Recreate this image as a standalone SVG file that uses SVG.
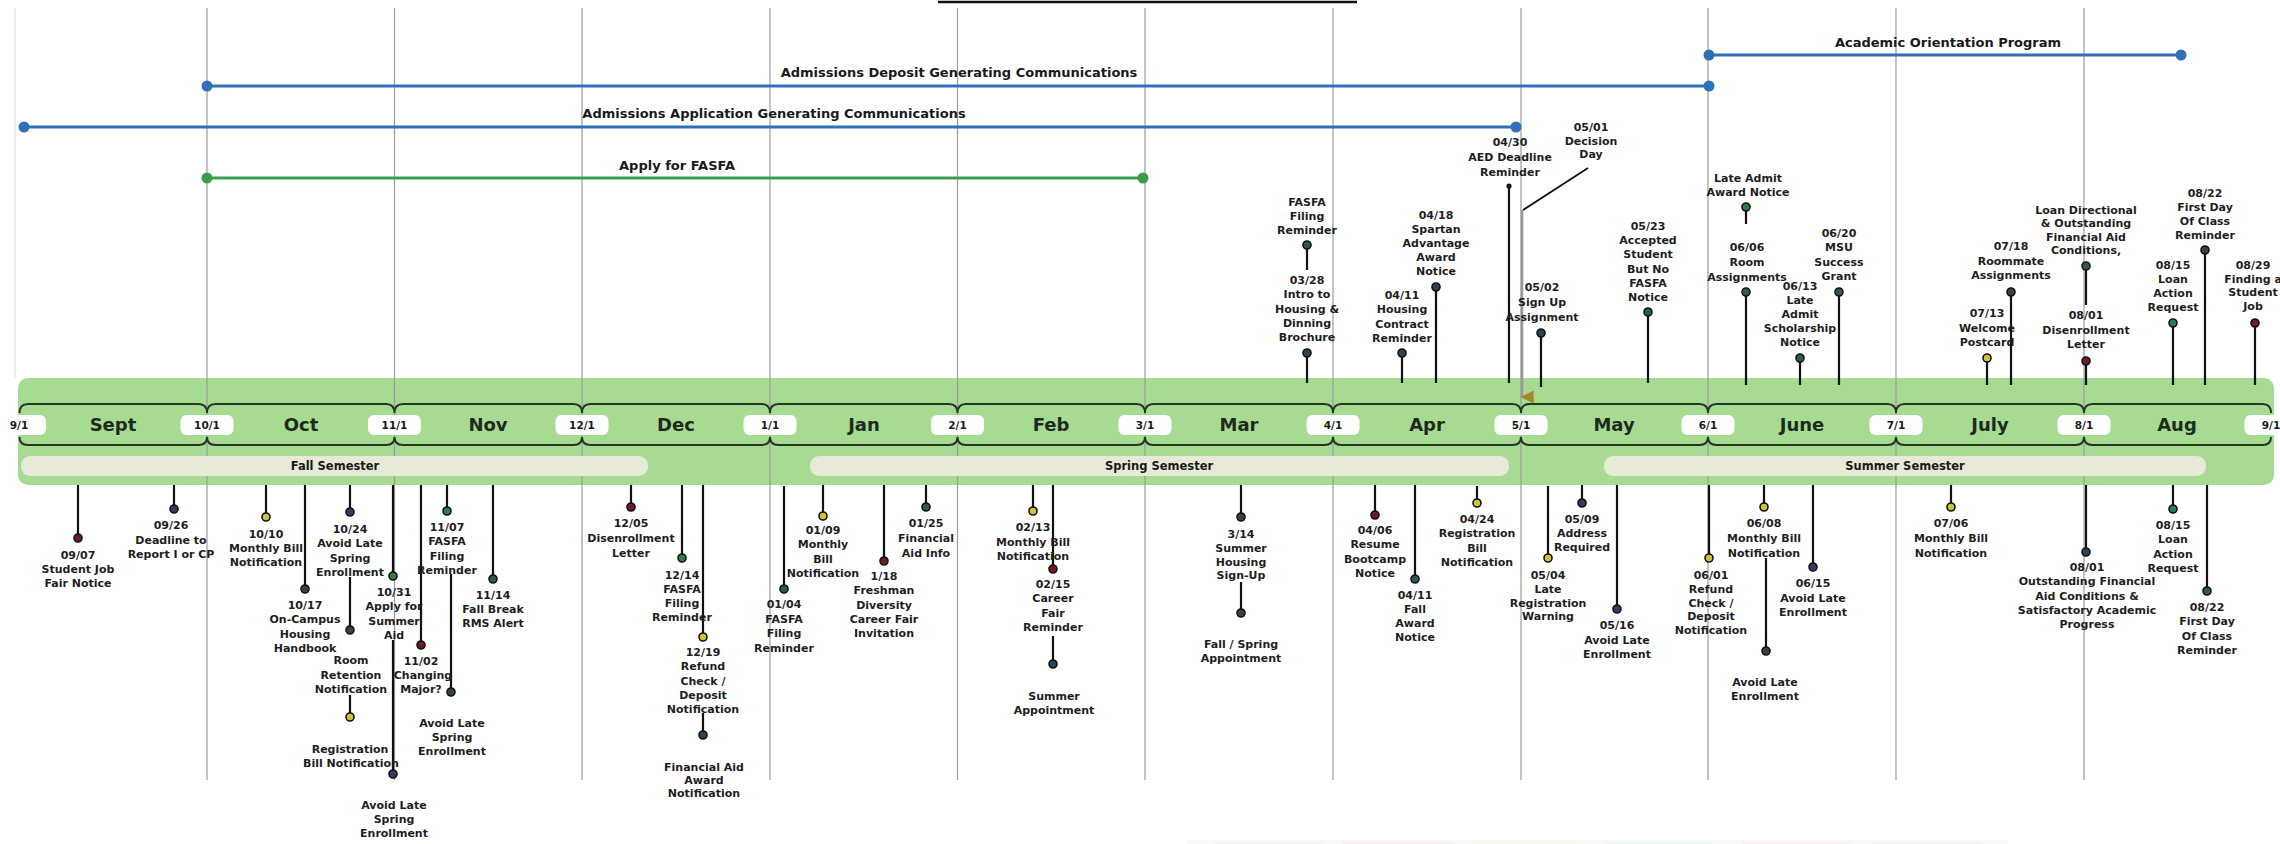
<svg xmlns="http://www.w3.org/2000/svg" width="2280" height="844" viewBox="0 0 2280 844">
  <style>
    .vl{stroke:#9c9c9c;stroke-width:1.2}
    .stem{stroke:#111;stroke-width:2.2}
    .dot{stroke:#111;stroke-width:1.6}
    .lbl{font-family:"DejaVu Sans",sans-serif;font-weight:bold;font-size:11px;fill:#1e1e1e;text-anchor:middle}
    .bar{font-family:"DejaVu Sans",sans-serif;font-weight:bold;font-size:13px;fill:#1a1a1a;text-anchor:middle}
    .semt{font-family:"DejaVu Sans",sans-serif;font-weight:bold;font-size:11.5px;fill:#1a1a1a;text-anchor:middle}
    .mon{font-family:"DejaVu Sans",sans-serif;font-weight:bold;font-size:18px;fill:#1e2a1e;text-anchor:middle}
    .pill{fill:#ffffff}
    .pt{font-family:"DejaVu Sans",sans-serif;font-weight:bold;font-size:10.5px;fill:#1a1a1a;text-anchor:middle}
    .brace{fill:none;stroke:#263626;stroke-width:2}
    .sem{fill:#e7e9d9}
    .blue{stroke:#2f70b6;stroke-width:3.2}
    .bluedot{fill:#2f70b6}
    .grn{stroke:#3c9e4c;stroke-width:3.2}
    .grndot{fill:#3c9e4c}
    .y{fill:#cfc43a}.r{fill:#6e1c22}.p{fill:#3f3569}.g{fill:#2f7d4e}.s{fill:#2e4250}.t{fill:#2a5b57}
  </style>
  <defs>
    <marker id="arrowDown" viewBox="0 0 10 10" refX="5" refY="9" markerWidth="5" markerHeight="5" orient="auto">
      <path d="M0,0 L10,0 L5,10 z" fill="#a08a30"/>
    </marker>
  </defs>

  <rect width="2280" height="844" fill="#ffffff"/>

  <!-- title underline -->
  <line x1="938" y1="2" x2="1357" y2="2" stroke="#111" stroke-width="2.5"/>

  <!-- timeline band -->
  <g id="band">
    <rect x="18" y="378" width="2256" height="107" rx="10" fill="#a6db91"/>
  </g>

  <!-- month grid -->
  <g id="grid">
    <line x1="15" y1="8" x2="15" y2="378" stroke="#dedede" stroke-width="1"/>
    <line class="vl" x1="207" y1="8" x2="207" y2="780"/>
    <line class="vl" x1="394.5" y1="8" x2="394.5" y2="780"/>
    <line class="vl" x1="582" y1="8" x2="582" y2="780"/>
    <line class="vl" x1="770" y1="8" x2="770" y2="780"/>
    <line class="vl" x1="957.5" y1="8" x2="957.5" y2="780"/>
    <line class="vl" x1="1145" y1="8" x2="1145" y2="780"/>
    <line class="vl" x1="1333" y1="8" x2="1333" y2="780"/>
    <line class="vl" x1="1521" y1="8" x2="1521" y2="780"/>
    <line class="vl" x1="1708" y1="8" x2="1708" y2="780"/>
    <line class="vl" x1="1896" y1="8" x2="1896" y2="780"/>
    <line class="vl" x1="2084" y1="8" x2="2084" y2="780"/>
  </g>

  <!-- semesters -->
  <g id="semesters">
    <rect class="sem" x="21" y="456" width="627" height="20" rx="9"/>
    <text class="semt" x="335" y="470">Fall Semester</text>
    <rect class="sem" x="810" y="456" width="699" height="20" rx="9"/>
    <text class="semt" x="1159" y="470">Spring Semester</text>
    <rect class="sem" x="1604" y="456" width="602" height="20" rx="9"/>
    <text class="semt" x="1905" y="470">Summer Semester</text>
  </g>

  <!-- month braces -->
  <g id="braces">
    <path class="brace" d="M19.5,413 Q19.5,404 28,404 H198.5 Q207,404 207,413 M207,413 Q207,404 215.5,404 H386 Q394.5,404 394.5,413 M394.5,413 Q394.5,404 403,404 H573.5 Q582,404 582,413 M582,413 Q582,404 590.5,404 H761.5 Q770,404 770,413 M770,413 Q770,404 778.5,404 H949 Q957.5,404 957.5,413 M957.5,413 Q957.5,404 966,404 H1136.5 Q1145,404 1145,413 M1145,413 Q1145,404 1153.5,404 H1324.5 Q1333,404 1333,413 M1333,413 Q1333,404 1341.5,404 H1512.5 Q1521,404 1521,413 M1521,413 Q1521,404 1529.5,404 H1699.5 Q1708,404 1708,413 M1708,413 Q1708,404 1716.5,404 H1887.5 Q1896,404 1896,413 M1896,413 Q1896,404 1904.5,404 H2075.5 Q2084,404 2084,413 M2084,413 Q2084,404 2092.5,404 H2262.5 Q2271,404 2271,413"/>
    <path class="brace" d="M19.5,437 Q19.5,445 28,445 H198.5 Q207,445 207,437 M207,437 Q207,445 215.5,445 H386 Q394.5,445 394.5,437 M394.5,437 Q394.5,445 403,445 H573.5 Q582,445 582,437 M582,437 Q582,445 590.5,445 H761.5 Q770,445 770,437 M770,437 Q770,445 778.5,445 H949 Q957.5,445 957.5,437 M957.5,437 Q957.5,445 966,445 H1136.5 Q1145,445 1145,437 M1145,437 Q1145,445 1153.5,445 H1324.5 Q1333,445 1333,437 M1333,437 Q1333,445 1341.5,445 H1512.5 Q1521,445 1521,437 M1521,437 Q1521,445 1529.5,445 H1699.5 Q1708,445 1708,437 M1708,437 Q1708,445 1716.5,445 H1887.5 Q1896,445 1896,437 M1896,437 Q1896,445 1904.5,445 H2075.5 Q2084,445 2084,437 M2084,437 Q2084,445 2092.5,445 H2262.5 Q2271,445 2271,437"/>
  </g>

  <!-- month names and date tabs -->
  <g id="months">
    <text class="mon" x="113" y="431">Sept</text>
    <text class="mon" x="301" y="431">Oct</text>
    <text class="mon" x="488" y="431">Nov</text>
    <text class="mon" x="676" y="431">Dec</text>
    <text class="mon" x="864" y="431">Jan</text>
    <text class="mon" x="1051" y="431">Feb</text>
    <text class="mon" x="1239" y="431">Mar</text>
    <text class="mon" x="1427" y="431">Apr</text>
    <text class="mon" x="1614" y="431">May</text>
    <text class="mon" x="1802" y="431">June</text>
    <text class="mon" x="1990" y="431">July</text>
    <text class="mon" x="2177" y="431">Aug</text>
    <rect class="pill" x="-7" y="415" width="53" height="20" rx="6"/><text class="pt" x="19" y="429">9/1</text>
    <rect class="pill" x="180.5" y="415" width="53" height="20" rx="6"/><text class="pt" x="207" y="429">10/1</text>
    <rect class="pill" x="368" y="415" width="53" height="20" rx="6"/><text class="pt" x="394.5" y="429">11/1</text>
    <rect class="pill" x="555.5" y="415" width="53" height="20" rx="6"/><text class="pt" x="582" y="429">12/1</text>
    <rect class="pill" x="743.5" y="415" width="53" height="20" rx="6"/><text class="pt" x="770" y="429">1/1</text>
    <rect class="pill" x="931" y="415" width="53" height="20" rx="6"/><text class="pt" x="957.5" y="429">2/1</text>
    <rect class="pill" x="1118.5" y="415" width="53" height="20" rx="6"/><text class="pt" x="1145" y="429">3/1</text>
    <rect class="pill" x="1306.5" y="415" width="53" height="20" rx="6"/><text class="pt" x="1333" y="429">4/1</text>
    <rect class="pill" x="1494.5" y="415" width="53" height="20" rx="6"/><text class="pt" x="1521" y="429">5/1</text>
    <rect class="pill" x="1681.5" y="415" width="53" height="20" rx="6"/><text class="pt" x="1708" y="429">6/1</text>
    <rect class="pill" x="1869.5" y="415" width="53" height="20" rx="6"/><text class="pt" x="1896" y="429">7/1</text>
    <rect class="pill" x="2057.5" y="415" width="53" height="20" rx="6"/><text class="pt" x="2084" y="429">8/1</text>
    <rect class="pill" x="2244.5" y="415" width="53" height="20" rx="6"/><text class="pt" x="2271" y="429">9/1</text>
  </g>

  <!-- program spans -->
  <g id="span-orientation">
    <line class="blue" x1="1709" y1="55" x2="2181" y2="55"/>
    <circle class="bluedot" cx="1709" cy="55" r="5.5"/><circle class="bluedot" cx="2181" cy="55" r="5.5"/>
    <text class="bar" x="1948" y="47">Academic Orientation Program</text>
  </g>
  <g id="span-deposit">
    <line class="blue" x1="207" y1="86" x2="1709" y2="86"/>
    <circle class="bluedot" cx="207" cy="86" r="5.5"/><circle class="bluedot" cx="1709" cy="86" r="5.5"/>
    <text class="bar" x="959" y="77">Admissions Deposit Generating Communications</text>
  </g>
  <g id="span-application">
    <line class="blue" x1="24" y1="127" x2="1516" y2="127"/>
    <circle class="bluedot" cx="24" cy="127" r="5.5"/><circle class="bluedot" cx="1516" cy="127" r="5.5"/>
    <text class="bar" x="774" y="118">Admissions Application Generating Communications</text>
  </g>
  <g id="span-fasfa">
    <line class="grn" x1="207" y1="178" x2="1143" y2="178"/>
    <circle class="grndot" cx="207" cy="178" r="5.5"/><circle class="grndot" cx="1143" cy="178" r="5.5"/>
    <text class="bar" x="677" y="170">Apply for FASFA</text>
  </g>

  <!-- connectors: stems from the timeline band to each event -->
  <g id="connectors">
    <!-- above the band -->
    <line class="stem" x1="1307" y1="383" x2="1307" y2="353"/>
    <line class="stem" x1="1307" y1="270" x2="1307" y2="245"/>
    <line class="stem" x1="1402" y1="383" x2="1402" y2="353"/>
    <line class="stem" x1="1436" y1="383" x2="1436" y2="287"/>
    <line class="stem" x1="1509" y1="383" x2="1509" y2="186"/>
    <line x1="1588" y1="168" x2="1523" y2="210" stroke="#111" stroke-width="1.8"/>
    <line x1="1522" y1="210" x2="1522" y2="397" stroke="#9a9a9a" stroke-width="2.6" marker-end="url(#arrowDown)"/>
    <line class="stem" x1="1541" y1="387" x2="1541" y2="333"/>
    <line class="stem" x1="1648" y1="383" x2="1648" y2="312"/>
    <line class="stem" x1="1746" y1="385" x2="1746" y2="292"/>
    <line class="stem" x1="1746" y1="224" x2="1746" y2="207"/>
    <line class="stem" x1="1800" y1="385" x2="1800" y2="358"/>
    <line class="stem" x1="1839" y1="385" x2="1839" y2="292"/>
    <line class="stem" x1="1987" y1="385" x2="1987" y2="358"/>
    <line class="stem" x1="2011" y1="385" x2="2011" y2="292"/>
    <line class="stem" x1="2086" y1="385" x2="2086" y2="361"/>
    <line class="stem" x1="2086" y1="305" x2="2086" y2="266"/>
    <line class="stem" x1="2173" y1="385" x2="2173" y2="323"/>
    <line class="stem" x1="2205" y1="385" x2="2205" y2="250"/>
    <line class="stem" x1="2255" y1="385" x2="2255" y2="323"/>
    <!-- below the band -->
    <line class="stem" x1="78" y1="485" x2="78" y2="538"/>
    <line class="stem" x1="174" y1="485" x2="174" y2="509"/>
    <line class="stem" x1="266" y1="485" x2="266" y2="517"/>
    <line class="stem" x1="305" y1="485" x2="305" y2="589"/>
    <line class="stem" x1="350" y1="485" x2="350" y2="512"/>
    <line class="stem" x1="350" y1="577" x2="350" y2="630"/>
    <line class="stem" x1="350" y1="695" x2="350" y2="717"/>
    <line class="stem" x1="393" y1="485" x2="393" y2="576"/>
    <line class="stem" x1="393" y1="640" x2="393" y2="774"/>
    <line class="stem" x1="421" y1="485" x2="421" y2="645"/>
    <line class="stem" x1="447" y1="485" x2="447" y2="511"/>
    <line class="stem" x1="451" y1="574" x2="451" y2="692"/>
    <line class="stem" x1="493" y1="485" x2="493" y2="579"/>
    <line class="stem" x1="631" y1="485" x2="631" y2="507"/>
    <line class="stem" x1="682" y1="485" x2="682" y2="558"/>
    <line class="stem" x1="703" y1="485" x2="703" y2="637"/>
    <line class="stem" x1="703" y1="713" x2="703" y2="735"/>
    <line class="stem" x1="784" y1="486" x2="784" y2="589"/>
    <line class="stem" x1="823" y1="485" x2="823" y2="516"/>
    <line class="stem" x1="884" y1="485" x2="884" y2="561"/>
    <line class="stem" x1="926" y1="485" x2="926" y2="507"/>
    <line class="stem" x1="1033" y1="485" x2="1033" y2="511"/>
    <line class="stem" x1="1053" y1="485" x2="1053" y2="569"/>
    <line class="stem" x1="1053" y1="636" x2="1053" y2="664"/>
    <line class="stem" x1="1241" y1="485" x2="1241" y2="517"/>
    <line class="stem" x1="1241" y1="582" x2="1241" y2="613"/>
    <line class="stem" x1="1375" y1="485" x2="1375" y2="515"/>
    <line class="stem" x1="1415" y1="485" x2="1415" y2="579"/>
    <line class="stem" x1="1477" y1="486" x2="1477" y2="503"/>
    <line class="stem" x1="1548" y1="486" x2="1548" y2="558"/>
    <line class="stem" x1="1582" y1="485" x2="1582" y2="503"/>
    <line class="stem" x1="1617" y1="485" x2="1617" y2="609"/>
    <line class="stem" x1="1709" y1="485" x2="1709" y2="558"/>
    <line class="stem" x1="1764" y1="485" x2="1764" y2="507"/>
    <line class="stem" x1="1766" y1="558" x2="1766" y2="651"/>
    <line class="stem" x1="1813" y1="485" x2="1813" y2="567"/>
    <line class="stem" x1="1951" y1="485" x2="1951" y2="507"/>
    <line class="stem" x1="2086" y1="485" x2="2086" y2="552"/>
    <line class="stem" x1="2173" y1="485" x2="2173" y2="509"/>
    <line class="stem" x1="2207" y1="485" x2="2207" y2="591"/>
  </g>

  <!-- events above the band -->
  <g id="ev-0328">
    <circle class="dot s" cx="1307" cy="353" r="4"/>
    <text class="lbl" y="284"><tspan x="1307">03/28</tspan><tspan x="1307" dy="14.3">Intro to</tspan><tspan x="1307" dy="14.3">Housing &amp;</tspan><tspan x="1307" dy="14.3">Dinning</tspan><tspan x="1307" dy="14.3">Brochure</tspan></text>
  </g>
  <g id="ev-fasfa-spring">
    <circle class="dot t" cx="1307" cy="245" r="4"/>
    <text class="lbl" y="206"><tspan x="1307">FASFA</tspan><tspan x="1307" dy="14">Filing</tspan><tspan x="1307" dy="14">Reminder</tspan></text>
  </g>
  <g id="ev-0411-housing">
    <circle class="dot s" cx="1402" cy="353" r="4"/>
    <text class="lbl" y="299"><tspan x="1402">04/11</tspan><tspan x="1402" dy="14.3">Housing</tspan><tspan x="1402" dy="14.3">Contract</tspan><tspan x="1402" dy="14.3">Reminder</tspan></text>
  </g>
  <g id="ev-0418">
    <circle class="dot s" cx="1436" cy="287" r="4"/>
    <text class="lbl" y="219"><tspan x="1436">04/18</tspan><tspan x="1436" dy="14">Spartan</tspan><tspan x="1436" dy="14">Advantage</tspan><tspan x="1436" dy="14">Award</tspan><tspan x="1436" dy="14">Notice</tspan></text>
  </g>
  <g id="ev-0430">
    <circle cx="1509" cy="186" r="2.6" fill="#111"/>
    <text class="lbl" y="146"><tspan x="1510">04/30</tspan><tspan x="1510" dy="15">AED Deadline</tspan><tspan x="1510" dy="15">Reminder</tspan></text>
  </g>
  <g id="ev-0501">
    <text class="lbl" y="131"><tspan x="1591">05/01</tspan><tspan x="1591" dy="14">Decision</tspan><tspan x="1591" dy="13">Day</tspan></text>
  </g>
  <g id="ev-0502">
    <circle class="dot s" cx="1541" cy="333" r="4"/>
    <text class="lbl" y="291"><tspan x="1542">05/02</tspan><tspan x="1542" dy="15">Sign Up</tspan><tspan x="1542" dy="15">Assignment</tspan></text>
  </g>
  <g id="ev-0523">
    <circle class="dot t" cx="1648" cy="312" r="4"/>
    <text class="lbl" y="230"><tspan x="1648">05/23</tspan><tspan x="1648" dy="14.2">Accepted</tspan><tspan x="1648" dy="14.2">Student</tspan><tspan x="1648" dy="14.2">But No</tspan><tspan x="1648" dy="14.2">FASFA</tspan><tspan x="1648" dy="14.2">Notice</tspan></text>
  </g>
  <g id="ev-0606">
    <circle class="dot t" cx="1746" cy="292" r="4"/>
    <text class="lbl" y="251"><tspan x="1747">06/06</tspan><tspan x="1747" dy="15">Room</tspan><tspan x="1747" dy="15">Assignments</tspan></text>
  </g>
  <g id="ev-late-admit">
    <circle class="dot g" cx="1746" cy="207" r="4"/>
    <text class="lbl" y="182"><tspan x="1748">Late Admit</tspan><tspan x="1748" dy="13.5">Award Notice</tspan></text>
  </g>
  <g id="ev-0613">
    <circle class="dot t" cx="1800" cy="358" r="4"/>
    <text class="lbl" y="290"><tspan x="1800">06/13</tspan><tspan x="1800" dy="14">Late</tspan><tspan x="1800" dy="14">Admit</tspan><tspan x="1800" dy="14">Scholarship</tspan><tspan x="1800" dy="14">Notice</tspan></text>
  </g>
  <g id="ev-0620">
    <circle class="dot t" cx="1839" cy="292" r="4"/>
    <text class="lbl" y="237"><tspan x="1839">06/20</tspan><tspan x="1839" dy="14.3">MSU</tspan><tspan x="1839" dy="14.3">Success</tspan><tspan x="1839" dy="14.3">Grant</tspan></text>
  </g>
  <g id="ev-0713">
    <circle class="dot y" cx="1987" cy="358" r="4"/>
    <text class="lbl" y="317"><tspan x="1987">07/13</tspan><tspan x="1987" dy="14.5">Welcome</tspan><tspan x="1987" dy="14.5">Postcard</tspan></text>
  </g>
  <g id="ev-0718">
    <circle class="dot s" cx="2011" cy="292" r="4"/>
    <text class="lbl" y="250"><tspan x="2011">07/18</tspan><tspan x="2011" dy="15">Roommate</tspan><tspan x="2011" dy="14">Assignments</tspan></text>
  </g>
  <g id="ev-0801-letter">
    <circle class="dot r" cx="2086" cy="361" r="4"/>
    <text class="lbl" y="319"><tspan x="2086">08/01</tspan><tspan x="2086" dy="15">Disenrollment</tspan><tspan x="2086" dy="14">Letter</tspan></text>
  </g>
  <g id="ev-loan-directional">
    <circle class="dot t" cx="2086" cy="266" r="4"/>
    <text class="lbl" y="214"><tspan x="2086">Loan Directional</tspan><tspan x="2086" dy="13.3">&amp; Outstanding</tspan><tspan x="2086" dy="13.3">Financial Aid</tspan><tspan x="2086" dy="13.3">Conditions,</tspan></text>
  </g>
  <g id="ev-0815-up">
    <circle class="dot g" cx="2173" cy="323" r="4"/>
    <text class="lbl" y="269"><tspan x="2173">08/15</tspan><tspan x="2173" dy="14">Loan</tspan><tspan x="2173" dy="14">Action</tspan><tspan x="2173" dy="14">Request</tspan></text>
  </g>
  <g id="ev-0822-up">
    <circle class="dot s" cx="2205" cy="250" r="4"/>
    <text class="lbl" y="197"><tspan x="2205">08/22</tspan><tspan x="2205" dy="14">First Day</tspan><tspan x="2205" dy="14">Of Class</tspan><tspan x="2205" dy="14">Reminder</tspan></text>
  </g>
  <g id="ev-0829">
    <circle class="dot r" cx="2255" cy="323" r="4"/>
    <text class="lbl" y="269"><tspan x="2253">08/29</tspan><tspan x="2253" dy="13.7">Finding a</tspan><tspan x="2253" dy="13.7">Student</tspan><tspan x="2253" dy="13.7">Job</tspan></text>
  </g>

  <!-- events below the band -->
  <g id="ev-0907">
    <circle class="dot r" cx="78" cy="538" r="4"/>
    <text class="lbl" y="559"><tspan x="78">09/07</tspan><tspan x="78" dy="14">Student Job</tspan><tspan x="78" dy="14">Fair Notice</tspan></text>
  </g>
  <g id="ev-0926">
    <circle class="dot p" cx="174" cy="509" r="4"/>
    <text class="lbl" y="529"><tspan x="171">09/26</tspan><tspan x="171" dy="15">Deadline to</tspan><tspan x="171" dy="14">Report I or CP</tspan></text>
  </g>
  <g id="ev-1010">
    <circle class="dot y" cx="266" cy="517" r="4"/>
    <text class="lbl" y="538"><tspan x="266">10/10</tspan><tspan x="266" dy="14">Monthly Bill</tspan><tspan x="266" dy="14">Notification</tspan></text>
  </g>
  <g id="ev-1017">
    <circle class="dot s" cx="305" cy="589" r="4"/>
    <text class="lbl" y="609"><tspan x="305">10/17</tspan><tspan x="305" dy="14.3">On-Campus</tspan><tspan x="305" dy="14.3">Housing</tspan><tspan x="305" dy="14.3">Handbook</tspan></text>
  </g>
  <g id="ev-1024">
    <circle class="dot p" cx="350" cy="512" r="4"/>
    <text class="lbl" y="533"><tspan x="350">10/24</tspan><tspan x="350" dy="14.3">Avoid Late</tspan><tspan x="350" dy="14.3">Spring</tspan><tspan x="350" dy="14.3">Enrollment</tspan></text>
  </g>
  <g id="ev-room-retention">
    <circle class="dot s" cx="350" cy="630" r="4"/>
    <text class="lbl" y="664"><tspan x="351">Room</tspan><tspan x="351" dy="14.5">Retention</tspan><tspan x="351" dy="14">Notification</tspan></text>
  </g>
  <g id="ev-registration-bill-fall">
    <circle class="dot y" cx="350" cy="717" r="4"/>
    <text class="lbl" y="753"><tspan x="350">Registration</tspan><tspan x="351" dy="13.5">Bill Notification</tspan></text>
  </g>
  <g id="ev-1031">
    <circle class="dot g" cx="393" cy="576" r="4"/>
    <text class="lbl" y="596"><tspan x="394">10/31</tspan><tspan x="394" dy="14.3">Apply for</tspan><tspan x="394" dy="14.3">Summer</tspan><tspan x="394" dy="14.3">Aid</tspan></text>
  </g>
  <g id="ev-avoid-late-a">
    <circle class="dot p" cx="393" cy="774" r="4"/>
    <text class="lbl" y="809"><tspan x="394">Avoid Late</tspan><tspan x="394" dy="14">Spring</tspan><tspan x="394" dy="14">Enrollment</tspan></text>
  </g>
  <g id="ev-1102">
    <circle class="dot r" cx="421" cy="645" r="4"/>
    <text class="lbl" y="665"><tspan x="421">11/02</tspan><tspan x="423" dy="14">Changing</tspan><tspan x="421" dy="14">Major?</tspan></text>
  </g>
  <g id="ev-1107">
    <circle class="dot g" cx="447" cy="511" r="4"/>
    <text class="lbl" y="531"><tspan x="447">11/07</tspan><tspan x="447" dy="14.3">FASFA</tspan><tspan x="447" dy="14.3">Filing</tspan><tspan x="447" dy="14.3">Reminder</tspan></text>
  </g>
  <g id="ev-avoid-late-b">
    <circle class="dot s" cx="451" cy="692" r="4"/>
    <text class="lbl" y="727"><tspan x="452">Avoid Late</tspan><tspan x="452" dy="14">Spring</tspan><tspan x="452" dy="14">Enrollment</tspan></text>
  </g>
  <g id="ev-1114">
    <circle class="dot t" cx="493" cy="579" r="4"/>
    <text class="lbl" y="599"><tspan x="493">11/14</tspan><tspan x="493" dy="14">Fall Break</tspan><tspan x="493" dy="14">RMS Alert</tspan></text>
  </g>
  <g id="ev-1205">
    <circle class="dot r" cx="631" cy="507" r="4"/>
    <text class="lbl" y="527"><tspan x="631">12/05</tspan><tspan x="631" dy="15">Disenrollment</tspan><tspan x="631" dy="15">Letter</tspan></text>
  </g>
  <g id="ev-1214">
    <circle class="dot g" cx="682" cy="558" r="4"/>
    <text class="lbl" y="579"><tspan x="682">12/14</tspan><tspan x="682" dy="14">FASFA</tspan><tspan x="682" dy="14">Filing</tspan><tspan x="682" dy="14">Reminder</tspan></text>
  </g>
  <g id="ev-1219">
    <circle class="dot y" cx="703" cy="637" r="4"/>
    <text class="lbl" y="656"><tspan x="703">12/19</tspan><tspan x="703" dy="14.3">Refund</tspan><tspan x="703" dy="14.3">Check /</tspan><tspan x="703" dy="14.3">Deposit</tspan><tspan x="703" dy="14.3">Notification</tspan></text>
  </g>
  <g id="ev-aid-award">
    <circle class="dot s" cx="703" cy="735" r="4"/>
    <text class="lbl" y="771"><tspan x="704">Financial Aid</tspan><tspan x="704" dy="13">Award</tspan><tspan x="704" dy="13">Notification</tspan></text>
  </g>
  <g id="ev-0104">
    <circle class="dot t" cx="784" cy="589" r="4"/>
    <text class="lbl" y="608"><tspan x="784">01/04</tspan><tspan x="784" dy="14.5">FASFA</tspan><tspan x="784" dy="14.5">Filing</tspan><tspan x="784" dy="14.5">Reminder</tspan></text>
  </g>
  <g id="ev-0109">
    <circle class="dot y" cx="823" cy="516" r="4"/>
    <text class="lbl" y="534"><tspan x="823">01/09</tspan><tspan x="823" dy="14.3">Monthly</tspan><tspan x="823" dy="14.3">Bill</tspan><tspan x="823" dy="14.3">Notification</tspan></text>
  </g>
  <g id="ev-0118">
    <circle class="dot r" cx="884" cy="561" r="4"/>
    <text class="lbl" y="580"><tspan x="884">1/18</tspan><tspan x="884" dy="14.3">Freshman</tspan><tspan x="884" dy="14.3">Diversity</tspan><tspan x="884" dy="14.3">Career Fair</tspan><tspan x="884" dy="14.3">Invitation</tspan></text>
  </g>
  <g id="ev-0125">
    <circle class="dot t" cx="926" cy="507" r="4"/>
    <text class="lbl" y="527"><tspan x="926">01/25</tspan><tspan x="926" dy="15">Financial</tspan><tspan x="926" dy="15">Aid Info</tspan></text>
  </g>
  <g id="ev-0213">
    <circle class="dot y" cx="1033" cy="511" r="4"/>
    <text class="lbl" y="531"><tspan x="1033">02/13</tspan><tspan x="1033" dy="14.5">Monthly Bill</tspan><tspan x="1033" dy="14.5">Notification</tspan></text>
  </g>
  <g id="ev-0215">
    <circle class="dot r" cx="1053" cy="569" r="4"/>
    <text class="lbl" y="588"><tspan x="1053">02/15</tspan><tspan x="1053" dy="14.3">Career</tspan><tspan x="1053" dy="14.3">Fair</tspan><tspan x="1053" dy="14.3">Reminder</tspan></text>
  </g>
  <g id="ev-summer-appt">
    <circle class="dot s" cx="1053" cy="664" r="4"/>
    <text class="lbl" y="700"><tspan x="1054">Summer</tspan><tspan x="1054" dy="13.5">Appointment</tspan></text>
  </g>
  <g id="ev-0314">
    <circle class="dot s" cx="1241" cy="517" r="4"/>
    <text class="lbl" y="538"><tspan x="1241">3/14</tspan><tspan x="1241" dy="13.8">Summer</tspan><tspan x="1241" dy="13.8">Housing</tspan><tspan x="1241" dy="13.8">Sign-Up</tspan></text>
  </g>
  <g id="ev-fall-spring-appt">
    <circle class="dot s" cx="1241" cy="613" r="4"/>
    <text class="lbl" y="648"><tspan x="1241">Fall / Spring</tspan><tspan x="1241" dy="13.5">Appointment</tspan></text>
  </g>
  <g id="ev-0406">
    <circle class="dot r" cx="1375" cy="515" r="4"/>
    <text class="lbl" y="534"><tspan x="1375">04/06</tspan><tspan x="1375" dy="14.3">Resume</tspan><tspan x="1375" dy="14.3">Bootcamp</tspan><tspan x="1375" dy="14.3">Notice</tspan></text>
  </g>
  <g id="ev-0411-award">
    <circle class="dot t" cx="1415" cy="579" r="4"/>
    <text class="lbl" y="599"><tspan x="1415">04/11</tspan><tspan x="1415" dy="14">Fall</tspan><tspan x="1415" dy="14">Award</tspan><tspan x="1415" dy="14">Notice</tspan></text>
  </g>
  <g id="ev-0424">
    <circle class="dot y" cx="1477" cy="503" r="4"/>
    <text class="lbl" y="523"><tspan x="1477">04/24</tspan><tspan x="1477" dy="14.3">Registration</tspan><tspan x="1477" dy="14.3">Bill</tspan><tspan x="1477" dy="14.3">Notification</tspan></text>
  </g>
  <g id="ev-0504">
    <circle class="dot y" cx="1548" cy="558" r="4"/>
    <text class="lbl" y="579"><tspan x="1548">05/04</tspan><tspan x="1548" dy="13.8">Late</tspan><tspan x="1548" dy="13.8">Registration</tspan><tspan x="1548" dy="13.8">Warning</tspan></text>
  </g>
  <g id="ev-0509">
    <circle class="dot p" cx="1582" cy="503" r="4"/>
    <text class="lbl" y="523"><tspan x="1582">05/09</tspan><tspan x="1582" dy="14">Address</tspan><tspan x="1582" dy="14">Required</tspan></text>
  </g>
  <g id="ev-0516">
    <circle class="dot p" cx="1617" cy="609" r="4"/>
    <text class="lbl" y="629"><tspan x="1617">05/16</tspan><tspan x="1617" dy="15">Avoid Late</tspan><tspan x="1617" dy="14">Enrollment</tspan></text>
  </g>
  <g id="ev-0601">
    <circle class="dot y" cx="1709" cy="558" r="4"/>
    <text class="lbl" y="579"><tspan x="1711">06/01</tspan><tspan x="1711" dy="13.8">Refund</tspan><tspan x="1711" dy="13.8">Check /</tspan><tspan x="1711" dy="13.8">Deposit</tspan><tspan x="1711" dy="13.8">Notification</tspan></text>
  </g>
  <g id="ev-0608">
    <circle class="dot y" cx="1764" cy="507" r="4"/>
    <text class="lbl" y="527"><tspan x="1764">06/08</tspan><tspan x="1764" dy="15">Monthly Bill</tspan><tspan x="1764" dy="15">Notification</tspan></text>
  </g>
  <g id="ev-avoid-late-summer">
    <circle class="dot s" cx="1766" cy="651" r="4"/>
    <text class="lbl" y="686"><tspan x="1765">Avoid Late</tspan><tspan x="1765" dy="14">Enrollment</tspan></text>
  </g>
  <g id="ev-0615">
    <circle class="dot p" cx="1813" cy="567" r="4"/>
    <text class="lbl" y="587"><tspan x="1813">06/15</tspan><tspan x="1813" dy="14.5">Avoid Late</tspan><tspan x="1813" dy="14.5">Enrollment</tspan></text>
  </g>
  <g id="ev-0706">
    <circle class="dot y" cx="1951" cy="507" r="4"/>
    <text class="lbl" y="527"><tspan x="1951">07/06</tspan><tspan x="1951" dy="15">Monthly Bill</tspan><tspan x="1951" dy="15">Notification</tspan></text>
  </g>
  <g id="ev-0801-conditions">
    <circle class="dot s" cx="2086" cy="552" r="4"/>
    <text class="lbl" y="571"><tspan x="2087">08/01</tspan><tspan x="2087" dy="14.3">Outstanding Financial</tspan><tspan x="2087" dy="14.3">Aid Conditions &amp;</tspan><tspan x="2087" dy="14.3">Satisfactory Academic</tspan><tspan x="2087" dy="14.3">Progress</tspan></text>
  </g>
  <g id="ev-0815-down">
    <circle class="dot g" cx="2173" cy="509" r="4"/>
    <text class="lbl" y="529"><tspan x="2173">08/15</tspan><tspan x="2173" dy="14.3">Loan</tspan><tspan x="2173" dy="14.3">Action</tspan><tspan x="2173" dy="14.3">Request</tspan></text>
  </g>
  <g id="ev-0822-down">
    <circle class="dot t" cx="2207" cy="591" r="4"/>
    <text class="lbl" y="611"><tspan x="2207">08/22</tspan><tspan x="2207" dy="14.3">First Day</tspan><tspan x="2207" dy="14.3">Of Class</tspan><tspan x="2207" dy="14.3">Reminder</tspan></text>
  </g>

  <!-- faint strip along the bottom edge -->
  <g id="bottom-strip" opacity="0.35">
    <rect x="1187" y="840" width="821" height="4" fill="#eeeeee"/>
    <rect x="1212" y="842" width="110" height="2" fill="#cfe6f5"/>
    <rect x="1342" y="842" width="110" height="2" fill="#f5cfd6"/>
    <rect x="1472" y="842" width="110" height="2" fill="#f7f0c4"/>
    <rect x="1602" y="842" width="110" height="2" fill="#cfeed8"/>
    <rect x="1742" y="842" width="110" height="2" fill="#f5cfe6"/>
    <rect x="1872" y="842" width="110" height="2" fill="#cfe6f5"/>
  </g>
</svg>
